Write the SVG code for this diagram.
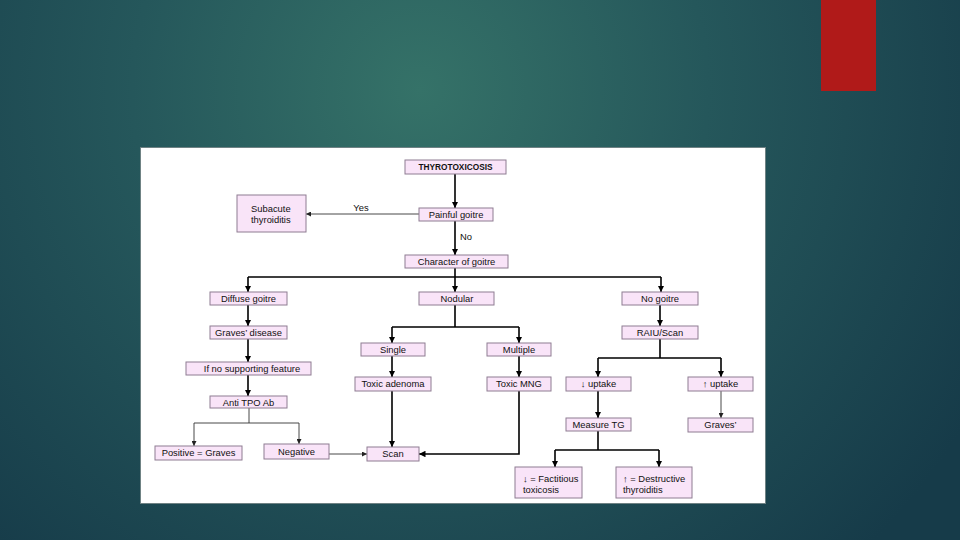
<svg xmlns="http://www.w3.org/2000/svg" width="960" height="540" viewBox="0 0 960 540">
<defs>
<radialGradient id="bg" gradientUnits="userSpaceOnUse" cx="420" cy="90" r="640">
<stop offset="0" stop-color="#357268"/>
<stop offset="0.45" stop-color="#25575b"/>
<stop offset="1" stop-color="#163b49"/>
</radialGradient>
<marker id="ah" viewBox="0 0 6 6" refX="6" refY="3" markerWidth="6.5" markerHeight="6.5" markerUnits="userSpaceOnUse" orient="auto">
<path d="M0,0 L6,3 L0,6 z" fill="#000"/>
</marker>
<marker id="ahg" viewBox="0 0 6 6" refX="6" refY="3" markerWidth="5" markerHeight="5" markerUnits="userSpaceOnUse" orient="auto">
<path d="M0,0 L6,3 L0,6 z" fill="#222"/>
</marker>
</defs>
<style>
.box{fill:#f9e4f8;stroke:#8e7d92;stroke-width:1}
.t{font-family:"Liberation Sans",Arial,sans-serif;font-size:9.4px;fill:#111;text-anchor:middle}
.tl{font-family:"Liberation Sans",Arial,sans-serif;font-size:9.4px;fill:#111}
.b{font-weight:bold;font-size:8.3px}
.thick{fill:none;stroke:#000;stroke-width:1.6}
.thin{fill:none;stroke:#333;stroke-width:0.9}
</style>
<rect width="960" height="540" fill="url(#bg)"/>
<rect x="821" y="0" width="55" height="91" fill="#b01a19"/>
<rect x="140.5" y="147.5" width="625" height="356" fill="#fff" stroke="#6f8284" stroke-width="1"/>

<g id="connectors">
<path class="thick" d="M455,174 V208" marker-end="url(#ah)"/>
<path class="thin" d="M419,214 H306" marker-end="url(#ahg)"/>
<path class="thick" d="M455,221 V255" marker-end="url(#ah)"/>
<path class="thick" d="M455,268 V277 M248,277 H661"/>
<path class="thick" d="M248,277 V292" marker-end="url(#ah)"/>
<path class="thick" d="M455,277 V292" marker-end="url(#ah)"/>
<path class="thick" d="M661,277 V292" marker-end="url(#ah)"/>
<path class="thick" d="M248,305 V326" marker-end="url(#ah)"/>
<path class="thick" d="M248,339 V362" marker-end="url(#ah)"/>
<path class="thick" d="M248,375 V396" marker-end="url(#ah)"/>
<path class="thin" d="M249,408 V423 M194,423 H299"/>
<path class="thin" d="M194,423 V446" marker-end="url(#ahg)"/>
<path class="thin" d="M299,423 V444" marker-end="url(#ahg)"/>
<path class="thick" d="M455,305 V327 M392,327 H519"/>
<path class="thick" d="M392,327 V343" marker-end="url(#ah)"/>
<path class="thick" d="M519,327 V343" marker-end="url(#ah)"/>
<path class="thick" d="M392,356 V377" marker-end="url(#ah)"/>
<path class="thick" d="M519,356 V377" marker-end="url(#ah)"/>
<path class="thick" d="M392,391 V447" marker-end="url(#ah)"/>
<path class="thick" d="M519,391 V454 H419" marker-end="url(#ah)"/>
<path class="thin" d="M329,454 H367" marker-end="url(#ahg)"/>
<path class="thick" d="M660,305 V326" marker-end="url(#ah)"/>
<path class="thick" d="M660,339 V358 M598,358 H721"/>
<path class="thick" d="M598,358 V377" marker-end="url(#ah)"/>
<path class="thick" d="M721,358 V377" marker-end="url(#ah)"/>
<path class="thick" d="M598,391 V418" marker-end="url(#ah)"/>
<path class="thin" d="M721,391 V418" stroke="#777" marker-end="url(#ahg)"/>
<path class="thick" d="M598,431 V450 M555,450 H659"/>
<path class="thick" d="M555,450 V467" marker-end="url(#ah)"/>
<path class="thick" d="M659,450 V467" marker-end="url(#ah)"/>
<text class="t" x="361" y="211">Yes</text>
<text class="tl" x="460" y="240">No</text>
</g>

<g id="thyrotoxicosis"><rect class="box" x="405" y="160" width="101" height="14"/><text class="t b" x="455.5" y="170">THYROTOXICOSIS</text></g>
<g id="painful"><rect class="box" x="419" y="208" width="74" height="13"/><text class="t" x="456" y="218">Painful goitre</text></g>
<g id="subacute"><rect class="box" x="237" y="195" width="69" height="37"/><text class="tl" x="251" y="212">Subacute</text><text class="tl" x="251" y="223">thyroiditis</text></g>
<g id="character"><rect class="box" x="405" y="255" width="103" height="13"/><text class="t" x="456.5" y="265">Character of goitre</text></g>
<g id="diffuse"><rect class="box" x="210" y="292" width="77" height="13"/><text class="t" x="248.5" y="302">Diffuse goitre</text></g>
<g id="nodular"><rect class="box" x="419" y="292" width="75" height="13"/><text class="t" x="457" y="302">Nodular</text></g>
<g id="nogoitre"><rect class="box" x="622" y="292" width="76" height="13"/><text class="t" x="660" y="302">No goitre</text></g>
<g id="graves-disease"><rect class="box" x="210" y="326" width="77" height="13"/><text class="t" x="248.5" y="336">Graves’ disease</text></g>
<g id="raiu"><rect class="box" x="622" y="326" width="76" height="13"/><text class="t" x="660" y="336">RAIU/Scan</text></g>
<g id="single"><rect class="box" x="361" y="343" width="64" height="13"/><text class="t" x="393" y="353">Single</text></g>
<g id="multiple"><rect class="box" x="487" y="343" width="64" height="13"/><text class="t" x="519" y="353">Multiple</text></g>
<g id="ifno"><rect class="box" x="186" y="362" width="125" height="13"/><text class="t" x="252" y="372">If no supporting feature</text></g>
<g id="toxic-adenoma"><rect class="box" x="355" y="377" width="76" height="14"/><text class="t" x="393" y="387">Toxic adenoma</text></g>
<g id="toxic-mng"><rect class="box" x="487" y="377" width="64" height="14"/><text class="t" x="519" y="387">Toxic MNG</text></g>
<g id="down-uptake"><rect class="box" x="566" y="377" width="65" height="14"/><text class="t" x="598.5" y="387">↓ uptake</text></g>
<g id="up-uptake"><rect class="box" x="688" y="377" width="65" height="14"/><text class="t" x="720.5" y="387">↑ uptake</text></g>
<g id="anti-tpo"><rect class="box" x="210" y="396" width="77" height="12"/><text class="t" x="248.5" y="405.5">Anti TPO Ab</text></g>
<g id="measure-tg"><rect class="box" x="566" y="418" width="65" height="13"/><text class="t" x="598.5" y="428">Measure TG</text></g>
<g id="graves"><rect class="box" x="688" y="418" width="65" height="14"/><text class="t" x="720.5" y="428">Graves’</text></g>
<g id="positive"><rect class="box" x="155" y="446" width="87" height="14"/><text class="t" x="198.5" y="456">Positive = Graves</text></g>
<g id="negative"><rect class="box" x="264" y="444" width="65" height="15"/><text class="t" x="296.5" y="455">Negative</text></g>
<g id="scan"><rect class="box" x="367" y="447" width="52" height="14"/><text class="t" x="393" y="457">Scan</text></g>
<g id="factitious"><rect class="box" x="515" y="467" width="67" height="31"/><text class="tl" x="523" y="482">↓ = Factitious</text><text class="tl" x="523" y="493">toxicosis</text></g>
<g id="destructive"><rect class="box" x="616" y="467" width="76" height="31"/><text class="tl" x="623" y="482">↑ = Destructive</text><text class="tl" x="623" y="493">thyroiditis</text></g>
</svg>
